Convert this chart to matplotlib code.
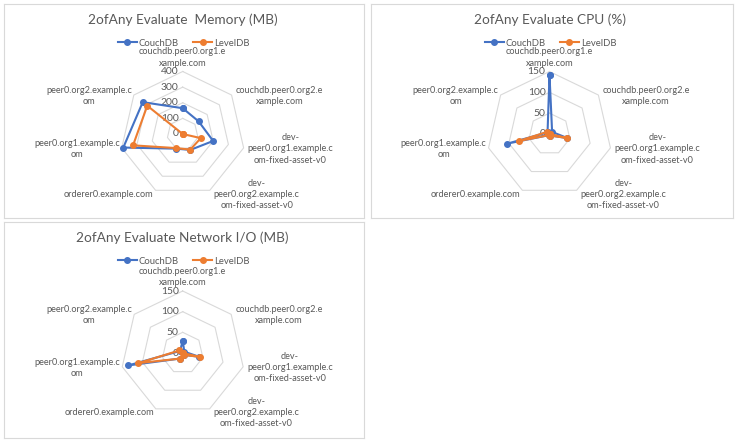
import numpy as np
import matplotlib
matplotlib.use("Agg")
import matplotlib.pyplot as plt

plt.rcParams['font.family'] = ['Lato', 'DejaVu Sans']

categories = ["couchdb.peer0.org1.e\nxample.com",
              "couchdb.peer0.org2.e\nxample.com",
              "dev-\npeer0.org1.example.c\nom-fixed-asset-v0",
              "dev-\npeer0.org2.example.c\nom-fixed-asset-v0",
              "orderer0.example.com",
              "peer0.org1.example.c\nom",
              "peer0.org2.example.c\nom"]

mem_couch = [165, 130, 200, 113, 104, 390, 327]
mem_level = [0, 0, 119, 111, 100, 326, 290]
mem_ticks = [0, 100, 200, 300, 400]

cpu_couch = [142, 8, 44, 4, 3, 104, 6]
cpu_level = [0, 0, 44, 4, 3, 76, 8]
cpu_ticks = [0, 50, 100, 150]

net_couch = [30, 5, 40, 5, 15, 135, 8]
net_level = [0, 0, 42, 5, 15, 110, 10]
net_ticks = [0, 50, 100, 150]

BLUE = "#4472C4"
ORANGE = "#ED7D31"
GRID = "#D9D9D9"
TXT = "#595959"

W, H = 736, 442
fig = plt.figure(figsize=(W / 100, H / 100), dpi=100)

n = len(categories)
theta = 2 * np.pi * np.arange(n) / n


def radar(box, center, R, title, couch, level, ticks):
    x0, y0, x1, y1 = box
    cx, cy = center
    vmax = ticks[-1]
    ax = fig.add_axes([x0 / W, 1 - y1 / H, (x1 - x0) / W, (y1 - y0) / H])
    ax.set_xlim((x0 - cx) / R * vmax, (x1 - cx) / R * vmax)
    ax.set_ylim((cy - y1) / R * vmax, (cy - y0) / R * vmax)
    ax.set_xticks([])
    ax.set_yticks([])
    for s in ax.spines.values():
        s.set_color(GRID)
        s.set_linewidth(0.8)

    ring_t = np.append(theta, theta[0])
    for t in ticks[1:]:
        ax.plot(t * np.sin(ring_t), t * np.cos(ring_t), color=GRID, lw=0.8, zorder=1)
    for t in ticks:
        ax.annotate(str(t), (0, t), xytext=(-4, 0), textcoords='offset pixels',
                    ha='right', va='center', fontsize=7.5, color=TXT)

    for vals, col, name in [(couch, BLUE, "CouchDB"), (level, ORANGE, "LevelDB")]:
        v = np.append(vals, vals[0])
        ax.plot(v * np.sin(ring_t), v * np.cos(ring_t), color=col, lw=1.5,
                marker='o', markersize=4, label=name, zorder=3)

    for k, lab in enumerate(categories):
        s, c = np.sin(theta[k]), np.cos(theta[k])
        px, py = vmax * s, vmax * c
        if abs(s) < 0.1:
            ha, va, off = 'center', 'bottom', (0, 4)
        else:
            ha = 'left' if s > 0 else 'right'
            va = 'center'
            off = (4 if s > 0 else -2, -4 if c < -0.5 else -1)
        ax.annotate(lab, (px, py), xytext=off, textcoords='offset pixels',
                    ha=ha, va=va, multialignment='center', fontsize=6.6,
                    color=TXT, linespacing=1.3)

    ax.text((cx - x0) / (x1 - x0), 1 - 16 / (y1 - y0), title, transform=ax.transAxes,
            ha='center', va='center', fontsize=9.8, color=TXT)
    ax.legend(loc='center', bbox_to_anchor=((cx + 1 - x0) / (x1 - x0), 1 - 39 / (y1 - y0)),
              ncol=2, frameon=False, fontsize=6.8, handlelength=2.0, columnspacing=1.5,
              handletextpad=0.2, labelcolor=TXT)


radar((4, 4, 364, 218), (182.7, 134), 62.5, "2ofAny Evaluate  Memory (MB)",
      mem_couch, mem_level, mem_ticks)
radar((371, 4, 733, 218), (549.5, 134), 62.5, "2ofAny Evaluate CPU (%)",
      cpu_couch, cpu_level, cpu_ticks)
radar((4, 222, 364, 438), (182.7, 353), 62, "2ofAny Evaluate Network I/O (MB)",
      net_couch, net_level, net_ticks)

fig.savefig("out.png", dpi=100)
